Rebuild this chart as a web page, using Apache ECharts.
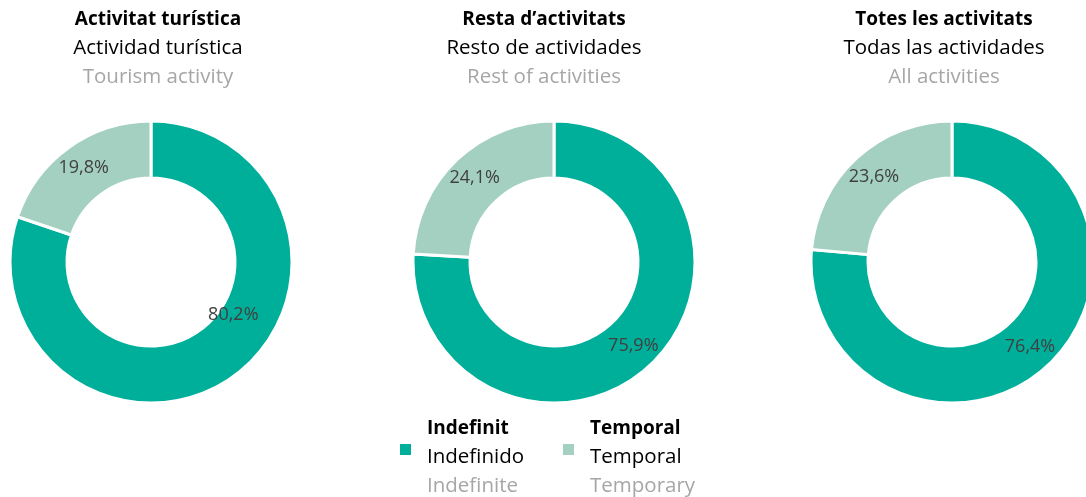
<!DOCTYPE html>
<html>
<head>
<meta charset="utf-8">
<script src="https://cdn.jsdelivr.net/npm/echarts@6/dist/echarts.min.js"></script>
<style>
  html, body { margin: 0; padding: 0; background: #fff; }
  #main { width: 1086px; height: 497px; }
</style>
</head>
<body>
<div id="main"></div>
<script>
// data
var categories = ['Indefinit', 'Temporal'];
var catEs = ['Indefinido', 'Temporal'];
var catEn = ['Indefinite', 'Temporary'];
var titlesCa = ['Activitat turística', 'Resta d\u2019activitats', 'Totes les activitats'];
var titlesEs = ['Actividad turística', 'Resto de actividades', 'Todas las actividades'];
var titlesEn = ['Tourism activity', 'Rest of activities', 'All activities'];
var indefinit = [80.2, 75.9, 76.4];
var temporal = [19.8, 24.1, 23.6];

var colors = ['#00AF9A', '#A4D0C2'];
var font = '"Open Sans", Lato, sans-serif';
var centersX = [151, 554, 952];
var titleX = [158, 544, 944];

var myChart = echarts.init(document.getElementById('main'));

var titleRich = {
    a: { fontFamily: font, fontSize: 19, fontWeight: 'bold', color: '#000', lineHeight: 29 },
    b: { fontFamily: font, fontSize: 20.5, fontWeight: 'normal', color: '#000', lineHeight: 29 },
    c: { fontFamily: font, fontSize: 20.5, fontWeight: 'normal', color: '#A6A6A6', lineHeight: 29 }
};

var titles = [], series = [];
for (var i = 0; i < 3; i++) {
    titles.push({
        text: '{a|' + titlesCa[i] + '}\n{b|' + titlesEs[i] + '}\n{c|' + titlesEn[i] + '}',
        left: titleX[i],
        top: 5,
        padding: 0,
        textAlign: 'center',
        textStyle: { fontWeight: 'normal', rich: titleRich }
    });
    series.push({
        type: 'pie',
        center: [centersX[i], 262],
        radius: [84, 141],
        startAngle: 90,
        clockwise: true,
        silent: true,
        itemStyle: { borderColor: '#fff', borderWidth: 3 },
        label: {
            show: true,
            position: 'inside',
            fontFamily: font,
            fontSize: 18,
            color: '#404040',
            formatter: function (p) { return p.value.toFixed(1).replace('.', ',') + '%'; }
        },
        labelLayout: i === 0 ? function (p) {
            // label moved off the midpoint in the original
            if (p.dataIndex === 0) return { dx: 15, dy: -41 };
        } : null,
        data: [
            { name: categories[0], value: indefinit[i] },
            { name: categories[1], value: temporal[i] }
        ]
    });
}

function legendFor(k, left) {
    return {
        data: [categories[k]],
        left: left,
        top: 419,
        padding: 0,
        icon: 'rect',
        itemWidth: 13,
        itemHeight: 13,
        selectedMode: false,
        formatter: function () {
            return '{a|' + categories[k] + '}\n{b|' + catEs[k] + '}\n{c|' + catEn[k] + '}';
        },
        textStyle: {
            padding: [16, 0, 0, 10],
            rich: titleRich
        }
    };
}

option = {
    color: colors,
    animation: false,
    title: titles,
    legend: [legendFor(0, 398), legendFor(1, 561)],
    series: series
};

myChart.setOption(option);
</script>
</body>
</html>
